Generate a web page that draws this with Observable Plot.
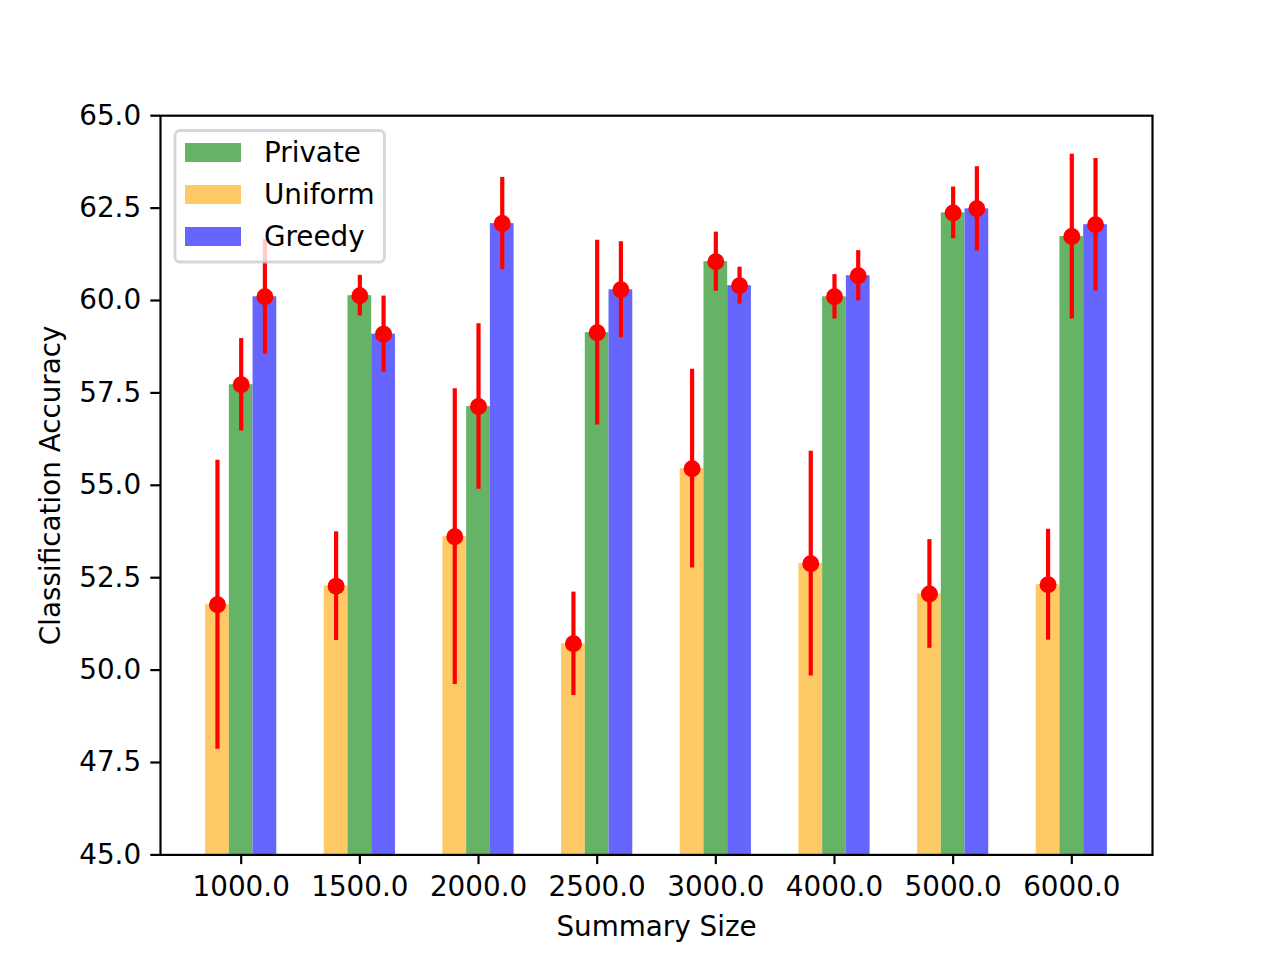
<!DOCTYPE html>
<html>
<head>
<meta charset="utf-8">
<script src="https://cdn.jsdelivr.net/npm/d3@7"></script>
<script src="https://cdn.jsdelivr.net/npm/@observablehq/plot@0.6"></script>
<style>
  html, body { margin: 0; padding: 0; background: white; }
  #wrap { position: relative; width: 1280px; height: 960px; }
  #legend { position: absolute; left: 0; top: 0; pointer-events: none; }
</style>
</head>
<body>
<div id="wrap"></div>
<script>
// ---- data ----
const sizeLabels = ["1000.0", "1500.0", "2000.0", "2500.0", "3000.0", "4000.0", "5000.0", "6000.0"];
const uniformMean = [51.77, 52.27, 53.61, 50.71, 55.45, 52.88, 52.06, 52.31];
const uniformErr  = [3.91, 1.47, 4.00, 1.40, 2.69, 3.04, 1.47, 1.50];
const privateMean = [57.72, 60.13, 57.13, 59.13, 61.05, 60.10, 62.37, 61.73];
const privateErr  = [1.25, 0.55, 2.24, 2.50, 0.80, 0.60, 0.70, 2.23];
const greedyMean  = [60.10, 59.09, 62.08, 60.29, 60.40, 60.67, 62.48, 62.05];
const greedyErr   = [1.55, 1.03, 1.25, 1.30, 0.50, 0.68, 1.14, 1.79];
const yTicks = [45, 47.5, 50, 52.5, 55, 57.5, 60, 62.5, 65];
const legendNames = ["Private", "Uniform", "Greedy"];

// ---- layout / style ----
const series = [
  {name: "Uniform", mean: uniformMean, err: uniformErr, off: -0.2, color: "#ffc966"},
  {name: "Private", mean: privateMean, err: privateErr, off: 0, color: "#66b366"},
  {name: "Greedy",  mean: greedyMean,  err: greedyErr,  off: 0.2, color: "#6666ff"}
];
const colorOf = Object.fromEntries(series.map(s => [s.name, s.color]));
const barW = 0.2;
const font = "DejaVu Sans";
const fs = 27.8;

const marks = [];
for (const s of series) {
  const rows = sizeLabels.map((lab, i) => ({i, mean: s.mean[i], err: s.err[i]}));
  marks.push(Plot.rect(rows, {
    x1: d => d.i + s.off - barW / 2,
    x2: d => d.i + s.off + barW / 2,
    y1: 45, y2: "mean", fill: s.color
  }));
}
for (const s of series) {
  const rows = sizeLabels.map((lab, i) => ({i, mean: s.mean[i], err: s.err[i]}));
  marks.push(Plot.ruleX(rows, {
    x: d => d.i + s.off, y1: d => d.mean - d.err, y2: d => d.mean + d.err,
    stroke: "red", strokeWidth: 4.2
  }));
  marks.push(Plot.dot(rows, {
    x: d => d.i + s.off, y: "mean", r: 8.5, fill: "red", stroke: "none"
  }));
}
marks.push(Plot.frame({stroke: "black", strokeWidth: 2.2}));
marks.push(Plot.axisX({
  ticks: sizeLabels.map((_, i) => i), tickFormat: i => sizeLabels[i],
  tickSize: 9.7, tickPadding: 12, strokeWidth: 2.2,
  label: "Summary Size", labelAnchor: "center", labelOffset: 80.6, labelArrow: "none"
}));
marks.push(Plot.axisY({
  ticks: yTicks, tickFormat: d => d.toFixed(1),
  tickSize: 9.7, tickPadding: 9.7, strokeWidth: 2.2,
  label: "Classification Accuracy", labelAnchor: "center", labelOffset: 120, labelArrow: "none"
}));

const chart = Plot.plot({
  width: 1280, height: 960,
  marginLeft: 160, marginRight: 128, marginTop: 115.2, marginBottom: 105.6,
  style: {fontFamily: font, fontSize: fs + "px", color: "black", background: "white", overflow: "visible"},
  x: {type: "linear", domain: [-0.68, 7.68]},
  y: {domain: [45, 65]},
  marks
});
const wrap = document.getElementById("wrap");
wrap.appendChild(chart);

// ---- legend overlay ----
const ns = "http://www.w3.org/2000/svg";
const lg = document.createElementNS(ns, "svg");
lg.setAttribute("id", "legend");
lg.setAttribute("width", 1280);
lg.setAttribute("height", 960);
const box = document.createElementNS(ns, "rect");
box.setAttribute("x", 175); box.setAttribute("y", 130.5);
box.setAttribute("width", 209.5); box.setAttribute("height", 131.5);
box.setAttribute("rx", 5); box.setAttribute("ry", 5);
box.setAttribute("fill", "rgba(255,255,255,0.8)");
box.setAttribute("stroke", "rgba(204,204,204,0.8)");
box.setAttribute("stroke-width", 2.8);
lg.appendChild(box);
legendNames.forEach((name, k) => {
  const base = 162 + 42 * k;
  const r = document.createElementNS(ns, "rect");
  r.setAttribute("x", 185); r.setAttribute("y", base - 19);
  r.setAttribute("width", 56); r.setAttribute("height", 19);
  r.setAttribute("fill", colorOf[name]);
  lg.appendChild(r);
  const t = document.createElementNS(ns, "text");
  t.setAttribute("x", 264); t.setAttribute("y", base);
  t.setAttribute("font-family", font); t.setAttribute("font-size", fs);
  t.setAttribute("fill", "black");
  t.textContent = name;
  lg.appendChild(t);
});
wrap.appendChild(lg);
</script>
</body>
</html>
